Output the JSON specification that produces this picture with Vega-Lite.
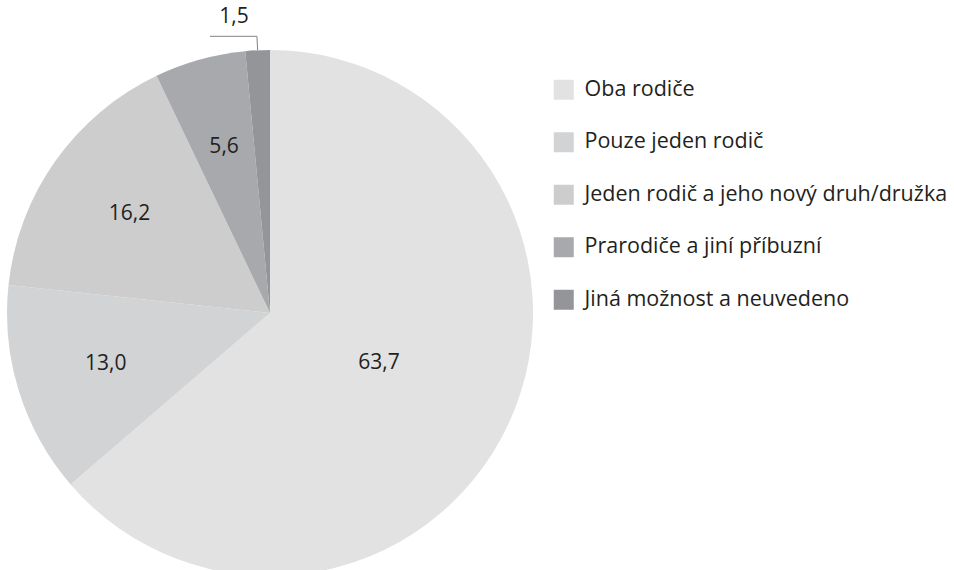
{
  "$schema": "https://vega.github.io/schema/vega-lite/v6.json",
  "width": 530,
  "height": 514,
  "autosize": {"type": "none"},
  "padding": {"left": 5, "top": 56, "right": 419, "bottom": 0},
  "background": "white",
  "config": {"view": {"stroke": null}, "font": "Open Sans"},
  "data": {"values": [
    {"cat": "Oba rodiče", "value": 63.7, "label": "63,7", "order": 1},
    {"cat": "Pouze jeden rodič", "value": 13.0, "label": "13,0", "order": 2},
    {"cat": "Jeden rodič a jeho nový druh/družka", "value": 16.2, "label": "16,2", "order": 3},
    {"cat": "Prarodiče a jiní příbuzní", "value": 5.6, "label": "5,6", "order": 4},
    {"cat": "Jiná možnost a neuvedeno", "value": 1.5, "label": "1,5", "order": 5}
  ]},
  "transform": [
    {"stack": "value", "groupby": [], "sort": [{"field": "order"}], "as": ["v0", "v1"]},
    {"calculate": "(datum.v0 + datum.v1) / 2", "as": "mid"}
  ],
  "layer": [
    {
      "mark": {"type": "arc", "outerRadius": 263, "stroke": null},
      "encoding": {
        "theta": {"field": "v0", "type": "quantitative", "scale": {"domain": [0, 100]}},
        "theta2": {"field": "v1"},
        "color": {
          "field": "cat", "type": "nominal",
          "scale": {
            "domain": ["Oba rodiče", "Pouze jeden rodič", "Jeden rodič a jeho nový druh/družka", "Prarodiče a jiní příbuzní", "Jiná možnost a neuvedeno"],
            "range": ["#e2e2e2", "#d1d3d4", "#cdcdcd", "#a7a9ac", "#939598"]
          },
          "legend": {
            "orient": "none", "legendX": 548, "legendY": 23, "title": null,
            "padding": 0, "symbolType": "square", "symbolSize": 400, "symbolStrokeWidth": 0,
            "symbolOpacity": 1, "labelFont": "Open Sans", "labelFontSize": 21.5, "labelColor": "#231f20",
            "labelOffset": 10, "labelLimit": 600, "rowPadding": 29.5
          }
        }
      }
    },
    {
      "transform": [{"filter": "datum.order >= 2 && datum.order <= 4"}],
      "mark": {"type": "text", "radius": 172, "fontSize": 21, "color": "#231f20", "font": "Open Sans"},
      "encoding": {
        "theta": {"field": "mid", "type": "quantitative"},
        "text": {"field": "label"}
      }
    },
    {
      "transform": [{"filter": "datum.order == 1"}],
      "mark": {"type": "text", "radius": 120, "fontSize": 21, "color": "#231f20", "font": "Open Sans"},
      "encoding": {
        "theta": {"field": "mid", "type": "quantitative"},
        "text": {"field": "label"}
      }
    },
    {
      "transform": [
        {"filter": "datum.order == 5"},
        {"calculate": "datum.mid / 100 * 2 * PI", "as": "a"},
        {"calculate": "263 * sin(datum.a)", "as": "x1"},
        {"calculate": "263 * cos(datum.a)", "as": "y1"},
        {"calculate": "277 * sin(datum.a)", "as": "x2"},
        {"calculate": "277 * cos(datum.a)", "as": "y2"},
        {"calculate": "datum.x2 - 47", "as": "x3"},
        {"calculate": "datum.x2 - 23", "as": "xt"},
        {"calculate": "datum.y2 + 19", "as": "yt"}
      ],
      "layer": [
        {
          "mark": {"type": "rule", "color": "#808285", "strokeWidth": 1},
          "encoding": {
            "x": {"field": "x1", "type": "quantitative", "scale": {"domain": [-265, 265], "nice": false, "zero": false}, "axis": null},
            "y": {"field": "y1", "type": "quantitative", "scale": {"domain": [-257, 257], "nice": false, "zero": false}, "axis": null},
            "x2": {"field": "x2"},
            "y2": {"field": "y2"}
          }
        },
        {
          "mark": {"type": "rule", "color": "#808285", "strokeWidth": 1},
          "encoding": {
            "x": {"field": "x2", "type": "quantitative"},
            "y": {"field": "y2", "type": "quantitative"},
            "x2": {"field": "x3"},
            "y2": {"field": "y2"}
          }
        },
        {
          "mark": {"type": "text", "fontSize": 21, "color": "#231f20", "font": "Open Sans"},
          "encoding": {
            "x": {"field": "xt", "type": "quantitative"},
            "y": {"field": "yt", "type": "quantitative"},
            "text": {"field": "label"}
          }
        }
      ]
    }
  ]
}
